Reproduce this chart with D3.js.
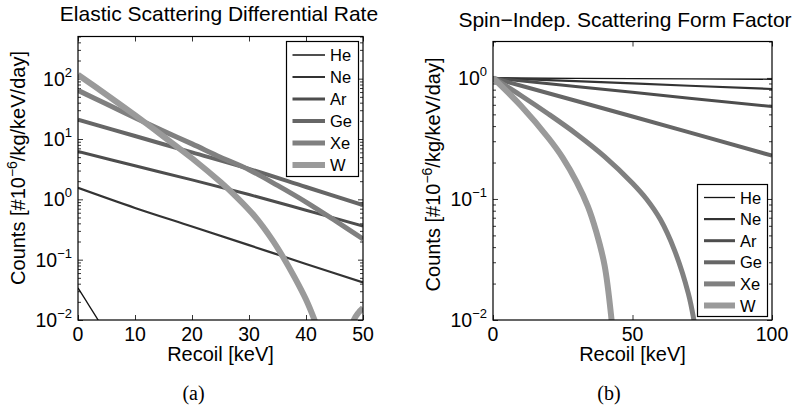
<!DOCTYPE html>
<html><head><meta charset="utf-8">
<script src="https://cdn.jsdelivr.net/npm/d3@7"></script>
<style>
body{margin:0;background:#fff}
svg{display:block}
text{font-family:"Liberation Sans",Arial,Helvetica,sans-serif;fill:#000}
.cap{font-family:"Liberation Serif","DejaVu Serif",serif}
</style>
</head><body>
<svg id="chart" width="805" height="413"></svg>
<script>
// ---------- DATA ----------
const elements = ["He","Ne","Ar","Ge","Xe","W"];

// (a) Elastic scattering differential rate  [counts 1e-6/kg/keV/day] vs recoil [keV]
const rateE_He = [0, 2, 4, 6];
const rate_He  = [0.034, 0.017, 0.0085, 0.0044];
const rateE_Ne = [0, 10, 20, 30, 40, 50];
const rate_Ne  = [1.55, 0.72, 0.355, 0.174, 0.085, 0.042];
const rateE_Ar = [0, 10, 20, 30, 40, 50];
const rate_Ar  = [6.2, 3.6, 2.1, 1.2, 0.66, 0.36];
const rateE_Ge = [0, 10, 20, 30, 40, 50];
const rate_Ge  = [21, 11.2, 6.0, 3.2, 1.6, 0.8];
const rateE_Xe = [0, 5, 10, 15, 20, 25, 30, 35, 40, 45, 50];
const rate_Xe  = [64, 38, 22.4, 13.5, 8.3, 5.0, 3.1, 1.7, 0.9, 0.45, 0.22];
const rateE_W  = [0, 5, 10, 15, 20, 25, 28, 31, 34, 36, 38, 40, 41.5, 43, 45, 47, 48.4, 49.2, 50];
const rate_W   = [116, 54.3, 24.8, 11.0, 4.8, 1.93, 1.05, 0.525, 0.219, 0.11, 0.051, 0.0219, 0.01, 0.004, 0.0005, 0.0025, 0.01, 0.0132, 0.0158];

// (b) Spin-independent form factor vs recoil [keV]
const ffE_He = [0, 50, 100];
const ff_He  = [1, 0.987, 0.975];
const ffE_Ne = [0, 50, 100];
const ff_Ne  = [1, 0.9, 0.81];
const ffE_Ar = [0, 50, 100];
const ff_Ar  = [1, 0.76, 0.58];
const ffE_Ge = [0, 50, 100];
const ff_Ge  = [1, 0.48, 0.228];
const ffE_Xe = [0, 10, 20, 30, 40, 50, 55, 60, 65, 70, 72, 75];
const ff_Xe  = [1, 0.716, 0.501, 0.343, 0.224, 0.135, 0.1, 0.0676, 0.038, 0.0166, 0.01, 0.0035];
const ffE_W  = [0, 10, 20, 25, 30, 34, 37, 40, 42.5, 44];
const ff_W   = [1, 0.589, 0.316, 0.219, 0.138, 0.087, 0.0537, 0.0282, 0.01, 0.004];

// tick values / labels
const xTicksA = [0, 10, 20, 30, 40, 50];
const yExpA   = [-2, -1, 0, 1, 2];
const xTicksB = [0, 50, 100];
const yExpB   = [-2, -1, 0];

const titleA = "Elastic Scattering Differential Rate";
const titleB = "Spin\u2212Indep. Scattering Form Factor";
const xLabel = "Recoil [keV]";

// ---------- STYLE ----------
const colors = {He:"#141414", Ne:"#333333", Ar:"#4d4d4d", Ge:"#666666", Xe:"#808080", W:"#9a9a9a"};
const widths = {He:1.3, Ne:2.2, Ar:3, Ge:4, Xe:5, W:6};

const svg = d3.select("#chart");
const zip = (xs, ys) => xs.map((v,i)=>[v, ys[i]]);

function minorTicks(dom){
  const out=[];
  const lo=Math.floor(Math.log10(dom[0])), hi=Math.ceil(Math.log10(dom[1]));
  for(let e=lo;e<hi;e++) for(let m=2;m<=9;m++){const v=m*Math.pow(10,e); if(v>=dom[0]&&v<=dom[1]) out.push(v);}
  return out;
}

function panel(o){
  const x = d3.scaleLinear().domain(o.xDomain).range([o.x0, o.x1]);
  const y = d3.scaleLog().domain(o.yDomain).range([o.y1, o.y0]);
  const g = svg.append("g");
  const W = o.x1-o.x0, H = o.y1-o.y0;

  g.append("clipPath").attr("id", o.id+"clip").append("rect")
    .attr("x", o.x0).attr("y", o.y0).attr("width", W).attr("height", H);

  // ticks
  const majors = o.yExp.map(e=>Math.pow(10,e));
  const minors = minorTicks(o.yDomain);
  const tickStyle = sel => { sel.select(".domain").remove(); sel.selectAll("line").attr("stroke","#000").attr("stroke-width",0.8); sel.selectAll("text").remove(); };
  g.append("g").attr("transform",`translate(${o.x0},0)`).call(d3.axisLeft(y).tickValues(majors).tickSize(-5)).call(tickStyle);
  g.append("g").attr("transform",`translate(${o.x0},0)`).call(d3.axisLeft(y).tickValues(minors).tickSize(-3)).call(tickStyle);
  g.append("g").attr("transform",`translate(${o.x1},0)`).call(d3.axisRight(y).tickValues(majors).tickSize(-5)).call(tickStyle);
  g.append("g").attr("transform",`translate(${o.x1},0)`).call(d3.axisRight(y).tickValues(minors).tickSize(-3)).call(tickStyle);
  g.append("g").attr("transform",`translate(0,${o.y1})`).call(d3.axisBottom(x).tickValues(o.xTicks).tickSize(-5)).call(tickStyle);
  g.append("g").attr("transform",`translate(0,${o.y0})`).call(d3.axisTop(x).tickValues(o.xTicks).tickSize(-5)).call(tickStyle);

  // lines
  const line = d3.line().x(d=>x(d[0])).y(d=>y(Math.max(d[1],1e-6))).curve(d3.curveCatmullRom.alpha(0.5));
  const lg = g.append("g").attr("clip-path",`url(#${o.id}clip)`);
  elements.forEach(el=>{
    lg.append("path").datum(o.data[el]).attr("d", line)
      .attr("fill","none").attr("stroke",colors[el]).attr("stroke-width",widths[el])
      .attr("stroke-linejoin","round");
  });

  // box
  g.append("rect").attr("x",o.x0).attr("y",o.y0).attr("width",W).attr("height",H)
    .attr("fill","none").attr("stroke","#000").attr("stroke-width",1.2);

  // x tick labels
  o.xTicks.forEach(t=>{
    g.append("text").attr("x",x(t)).attr("y",o.y1+21).attr("text-anchor","middle")
      .style("font-size","19.5px").text(t);
  });
  // y tick labels
  o.yExp.forEach(e=>{
    const t = g.append("text").attr("x",o.x0-6).attr("y",y(Math.pow(10,e))+7)
      .attr("text-anchor","end").style("font-size","19.5px");
    t.append("tspan").text("10");
    t.append("tspan").attr("dy",-9).style("font-size","13px").text(e<0?"\u2212"+(-e):String(e));
  });

  // title
  g.append("text").attr("x",o.titleX).attr("y",o.titleY).attr("text-anchor","middle")
    .style("font-size","21px").text(o.title);
  // x label
  g.append("text").attr("x",(o.x0+o.x1)/2).attr("y",o.y1+41).attr("text-anchor","middle")
    .style("font-size","20px").text(xLabel);
  // y label
  const yl = g.append("text").attr("transform",`translate(${o.yLabX},${o.yLabY}) rotate(-90)`)
    .attr("text-anchor","middle").style("font-size","20px");
  yl.append("tspan").text("Counts [#10");
  yl.append("tspan").attr("dy",-8).style("font-size","14px").text("\u22126");
  yl.append("tspan").attr("dy",8).text("/kg/keV/day]");

  // legend
  const L = o.legend;
  g.append("rect").attr("x",L.x).attr("y",L.y).attr("width",L.w).attr("height",L.h)
    .attr("fill","#fff").attr("stroke","#000").attr("stroke-width",1.2);
  elements.forEach((el,i)=>{
    const yy = L.firstY + i*L.step;
    g.append("line").attr("x1",L.lx1).attr("x2",L.lx2).attr("y1",yy).attr("y2",yy)
      .attr("stroke",colors[el]).attr("stroke-width",widths[el]);
    g.append("text").attr("x",L.tx).attr("y",yy+6).style("font-size","16.5px").text(el);
  });

  // caption
  svg.append("text").attr("class","cap").attr("x",o.capX).attr("y",400).attr("text-anchor","middle")
    .style("font-size","20px").text(o.cap);
}

panel({
  id:"a", x0:78, x1:363, y0:36.5, y1:320,
  xDomain:[0,50], yDomain:[0.01,500], xTicks:xTicksA, yExp:yExpA,
  data:{He:zip(rateE_He,rate_He), Ne:zip(rateE_Ne,rate_Ne), Ar:zip(rateE_Ar,rate_Ar),
        Ge:zip(rateE_Ge,rate_Ge), Xe:zip(rateE_Xe,rate_Xe), W:zip(rateE_W,rate_W)},
  title:titleA, titleX:219, titleY:21,
  yLabX:25, yLabY:168,
  legend:{x:286.5, y:41.5, w:72, h:135, firstY:55, step:22, lx1:292.5, lx2:325, tx:330},
  cap:"(a)", capX:193.5
});

panel({
  id:"b", x0:493, x1:772, y0:41.5, y1:320,
  xDomain:[0,100], yDomain:[0.01,2], xTicks:xTicksB, yExp:yExpB,
  data:{He:zip(ffE_He,ff_He), Ne:zip(ffE_Ne,ff_Ne), Ar:zip(ffE_Ar,ff_Ar),
        Ge:zip(ffE_Ge,ff_Ge), Xe:zip(ffE_Xe,ff_Xe), W:zip(ffE_W,ff_W)},
  title:titleB, titleX:625, titleY:26.5,
  yLabX:439.5, yLabY:174.5,
  legend:{x:697.5, y:184.5, w:70, h:132, firstY:197.5, step:21.6, lx1:704, lx2:735, tx:740},
  cap:"(b)", capX:609
});
</script>
</body></html>
